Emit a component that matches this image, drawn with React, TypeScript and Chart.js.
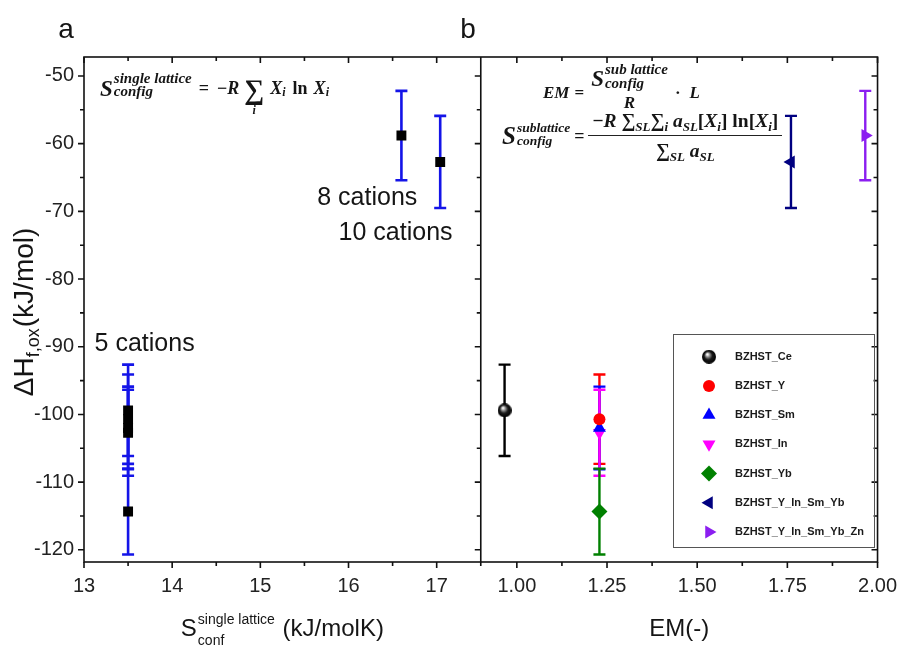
import React, { useEffect, useRef } from "react";
import { Chart, registerables } from "chart.js";
import { drawPoint } from "chart.js/helpers";

Chart.register(...registerables);

// ---------------- data ----------------
const samples = [
  "BZHST_Ce",
  "BZHST_Y",
  "BZHST_Sm",
  "BZHST_In",
  "BZHST_Yb",
  "BZHST_Y_In_Sm_Yb",
  "BZHST_Y_In_Sm_Yb_Zn",
];
const enthalpy = [-99.4, -100.7, -102.0, -102.7, -114.35, -62.7, -58.8];
const enthalpyErr = [6.75, 6.6, 6.1, 6.35, 6.35, 6.8, 6.6];
const sConfig = [13.5, 13.5, 13.5, 13.5, 13.5, 17.04, 16.6];
const emValues = [0.966, 1.229, 1.229, 1.229, 1.229, 1.76, 1.966];
const sTicks = [13, 14, 15, 16, 17];
const emTicks = [1.0, 1.25, 1.5, 1.75, 2.0];
const yTicks = [-120, -110, -100, -90, -80, -70, -60, -50];
const cationLabels = ["5 cations", "8 cations", "10 cations"];

// ---------------- styles ----------------
const sampleColors = ["#000000", "#ff0000", "#0000ff", "#ff00ff", "#008000", "#000080", "#8b1ef0"];
const markerStyles = ["sphere", "circle", "triangle", "triangle", "rectRot", "triangle", "triangle"];
const markerRot = [0, 0, 0, 180, 0, 270, 90];
const markerRadius = [7, 6, 7.5, 7.5, 8, 7.5, 7.5];
const SANS = '"Liberation Sans", Arial, sans-serif';
const SERIF = '"Liberation Serif", "DejaVu Serif", serif';

function makeSphere(d: number) {
  const c = document.createElement("canvas");
  c.width = d;
  c.height = d;
  const g = c.getContext("2d")!;
  const grad = g.createRadialGradient(d * 0.38, d * 0.32, d * 0.04, d / 2, d / 2, d / 2);
  grad.addColorStop(0, "#ffffff");
  grad.addColorStop(0.22, "#9a9a9a");
  grad.addColorStop(0.55, "#1a1a1a");
  grad.addColorStop(1, "#000000");
  g.fillStyle = grad;
  g.beginPath();
  g.arc(d / 2, d / 2, d / 2, 0, Math.PI * 2);
  g.fill();
  return c;
}

const errorBarPlugin = {
  id: "errorBars",
  beforeDatasetsDraw(chart: any) {
    const ctx = chart.ctx;
    chart.data.datasets.forEach((ds: any, i: number) => {
      if (!ds.errors) return;
      const meta = chart.getDatasetMeta(i);
      const xs = chart.scales[meta.xAxisID];
      const ys = chart.scales[meta.yAxisID];
      ctx.save();
      ctx.strokeStyle = ds.errorColor;
      ctx.lineWidth = ds.errorWidth;
      ds.data.forEach((pt: any, j: number) => {
        const x = xs.getPixelForValue(pt.x);
        const yt = ys.getPixelForValue(pt.y + ds.errors[j]);
        const yb = ys.getPixelForValue(pt.y - ds.errors[j]);
        ctx.beginPath();
        ctx.moveTo(x, yt);
        ctx.lineTo(x, yb);
        ctx.moveTo(x - ds.capHalf, yt);
        ctx.lineTo(x + ds.capHalf, yt);
        ctx.moveTo(x - ds.capHalf, yb);
        ctx.lineTo(x + ds.capHalf, yb);
        ctx.stroke();
      });
      ctx.restore();
    });
  },
};

const framePlugin = {
  id: "frame",
  afterDatasetsDraw(chart: any) {
    const { ctx, chartArea: a, scales } = chart;
    const xS = scales.xS;
    const xE = scales.xEM;
    const y = scales.y;
    const mid = xS.right;
    ctx.save();
    ctx.strokeStyle = "#111";
    ctx.lineWidth = 1.6;
    ctx.strokeRect(a.left, a.top, a.right - a.left, a.bottom - a.top);
    ctx.beginPath();
    ctx.moveTo(mid, a.top);
    ctx.lineTo(mid, a.bottom);
    for (let v = -120; v <= -50; v += 5) {
      const p = y.getPixelForValue(v);
      const len = v % 10 === 0 ? 6 : 4;
      ctx.moveTo(a.left - len, p);
      ctx.lineTo(a.left, p);
      ctx.moveTo(mid - len, p);
      ctx.lineTo(mid, p);
      ctx.moveTo(a.right - len, p);
      ctx.lineTo(a.right, p);
    }
    const xTick = (p: number, major: boolean) => {
      const len = major ? 6 : 4;
      ctx.moveTo(p, a.bottom);
      ctx.lineTo(p, a.bottom + len);
      ctx.moveTo(p, a.top);
      ctx.lineTo(p, a.top + len);
    };
    for (let v = 13; v <= 17.5001; v += 0.5) xTick(xS.getPixelForValue(v), Math.abs(v - Math.round(v)) < 1e-6);
    for (let k = 8; k <= 16; k++) {
      const v = k * 0.125;
      if (v < xE.min) continue;
      xTick(xE.getPixelForValue(v), k % 2 === 0);
    }
    ctx.stroke();
    ctx.restore();
  },
};

const annotPlugin = {
  id: "annot",
  afterDraw(chart: any) {
    const { ctx, scales } = chart;
    const xS = scales.xS;
    const xE = scales.xEM;
    const y = scales.y;
    ctx.save();
    ctx.fillStyle = "#151515";
    ctx.textBaseline = "alphabetic";
    // panel letters
    ctx.font = `28px ${SANS}`;
    ctx.textAlign = "center";
    ctx.fillText("a", 66, 38);
    ctx.fillText("b", 468, 38);
    // cation labels
    ctx.font = `25px ${SANS}`;
    ctx.textAlign = "left";
    ctx.fillText(cationLabels[0], xS.getPixelForValue(13.12), y.getPixelForValue(-90.7));
    ctx.textAlign = "right";
    ctx.fillText(cationLabels[1], xS.getPixelForValue(16.78), y.getPixelForValue(-69.1));
    ctx.fillText(cationLabels[2], xS.getPixelForValue(17.18), y.getPixelForValue(-74.3));

    // y title: starts (bottom) at -97.3
    ctx.save();
    ctx.translate(24, y.getPixelForValue(-97.3));
    ctx.rotate(-Math.PI / 2);
    ctx.textAlign = "left";
    const yBig = `28px ${SANS}`;
    const ySmall = `18px ${SANS}`;
    ctx.font = yBig;
    const w1 = ctx.measureText("ΔH").width;
    ctx.font = ySmall;
    const w2 = ctx.measureText("f,ox").width;
    ctx.font = yBig;
    ctx.fillText("ΔH", 0, 9);
    ctx.font = ySmall;
    ctx.fillText("f,ox", w1, 15);
    ctx.font = yBig;
    ctx.fillText("(kJ/mol)", w1 + w2 + 1, 9);
    ctx.restore();

    // x title a
    const big = `24px ${SANS}`;
    const base = 636;
    ctx.textAlign = "left";
    ctx.font = big;
    const sW = ctx.measureText("S").width;
    const uW = ctx.measureText(" (kJ/molK)").width;
    ctx.font = `14px ${SANS}`;
    const supW = ctx.measureText("single lattice").width;
    const total = sW + supW + 2 + uW;
    const cx = (xS.left + xS.right) / 2 - total / 2;
    ctx.font = big;
    ctx.fillText("S", cx, base);
    ctx.font = `14px ${SANS}`;
    ctx.fillText("single lattice", cx + sW + 1, base - 12);
    ctx.fillText("conf", cx + sW + 1, base + 9);
    ctx.font = big;
    ctx.fillText(" (kJ/molK)", cx + sW + supW + 2, base);
    // x title b
    ctx.textAlign = "center";
    ctx.fillText("EM(-)", (xE.left + xE.right) / 2, base);

    // legend
    const L = { left: 673, top: 334, right: 874, bottom: 547 };
    ctx.strokeStyle = "#555";
    ctx.lineWidth = 1;
    ctx.strokeRect(L.left + 0.5, L.top + 0.5, L.right - L.left, L.bottom - L.top);
    ctx.font = `bold 11px ${SANS}`;
    ctx.textAlign = "left";
    ctx.textBaseline = "middle";
    samples.forEach((name, i) => {
      const ry = 356.7 + i * 29.2;
      const ds = chart.data.datasets[i + 1];
      ctx.fillStyle = sampleColors[i];
      ctx.strokeStyle = sampleColors[i];
      drawPoint(ctx, { pointStyle: ds.pointStyle, rotation: ds.rotation, radius: ds.pointRadius, borderWidth: 0 } as any, 709, ry);
      ctx.fillStyle = "#1a1a1a";
      ctx.fillText(name, 735, ry);
    });
    ctx.restore();
  },
};

const Sc = ({ sup, sub, size = 13, shift = 0 }: { sup: string; sub: string; size?: number; shift?: number }) => (
  <span
    style={{
      display: "inline-flex",
      flexDirection: "column",
      fontSize: size,
      lineHeight: 0.9,
      marginLeft: 1,
      alignItems: "flex-start",
      position: "relative",
      top: shift,
    }}
  >
    <span>{sup}</span>
    <span>{sub}</span>
  </span>
);

const Sb = ({ children, size = 12 }: { children: any; size?: number }) => (
  <span style={{ fontSize: size, position: "relative", top: 4 }}>{children}</span>
);

const up: React.CSSProperties = { fontStyle: "normal" };

const mathBase: React.CSSProperties = {
  position: "absolute",
  fontFamily: SERIF,
  fontWeight: 700,
  fontStyle: "italic",
  color: "#151515",
  whiteSpace: "nowrap",
  lineHeight: 1,
  display: "flex",
  alignItems: "center",
};

export default function App() {
  const ref = useRef<HTMLCanvasElement>(null);
  useEffect(() => {
    const sphere = makeSphere(14);
    const tickFont = { family: SANS, size: 20 };
    const datasets: any[] = [
      {
        label: "ΔH vs S",
        data: sConfig.map((x, i) => ({ x, y: enthalpy[i] })),
        xAxisID: "xS",
        yAxisID: "y",
        pointStyle: "rect",
        pointRadius: 7,
        backgroundColor: "#000",
        borderColor: "#000",
        borderWidth: 0,
        errors: enthalpyErr,
        errorColor: "#1414e8",
        errorWidth: 2.6,
        capHalf: 6,
      },
      ...samples.map((name, i) => ({
        label: name,
        data: [{ x: emValues[i], y: enthalpy[i] }],
        xAxisID: "xEM",
        yAxisID: "y",
        pointStyle: markerStyles[i] === "sphere" ? sphere : markerStyles[i],
        rotation: markerRot[i],
        pointRadius: markerRadius[i],
        backgroundColor: sampleColors[i],
        borderColor: sampleColors[i],
        borderWidth: 0,
        errors: [enthalpyErr[i]],
        errorColor: sampleColors[i],
        errorWidth: 2.4,
        capHalf: 6,
      })),
    ];
    const xCommon = (ticksArr: number[], fmt: (v: number) => string) => ({
      type: "linear",
      position: "bottom",
      stack: "x",
      stackWeight: 1,
      afterBuildTicks: (s: any) => {
        s.ticks = ticksArr.map((v) => ({ value: v }));
      },
      afterFit: (s: any) => {
        s.height = 87;
      },
      ticks: {
        autoSkip: false,
        maxRotation: 0,
        minRotation: 0,
        padding: 12,
        font: tickFont,
        color: "#222",
        callback: (v: any) => fmt(Number(v)),
      },
      grid: { display: false, drawTicks: false },
      border: { display: false },
    });
    const chart = new Chart(ref.current!, {
      type: "scatter",
      data: { datasets },
      options: {
        responsive: false,
        animation: false,
        layout: { padding: { left: 0, right: 22, top: 57, bottom: 0 } },
        plugins: { legend: { display: false }, tooltip: { enabled: false }, title: { display: false } },
        scales: {
          xS: { ...xCommon(sTicks, (v) => String(v)), min: 13, max: 17.5 },
          xEM: { ...xCommon(emTicks, (v) => v.toFixed(2)), min: 0.9, max: 2.0 },
          y: {
            type: "linear",
            position: "left",
            min: -121.8,
            max: -47.2,
            afterBuildTicks: (s: any) => {
              s.ticks = yTicks.map((v) => ({ value: v }));
            },
            afterFit: (s: any) => {
              s.width = 84;
            },
            ticks: { padding: 10, font: tickFont, color: "#222", callback: (v: any) => String(v) },
            grid: { display: false, drawTicks: false },
            border: { display: false },
          },
        },
      } as any,
      plugins: [errorBarPlugin, framePlugin, annotPlugin],
    } as any);
    return () => chart.destroy();
  }, []);

  return (
    <div style={{ position: "absolute", left: 0, top: 0, width: 909, height: 649, background: "#fff", overflow: "hidden" }}>
      <canvas ref={ref} width={909} height={649} style={{ position: "absolute", left: 0, top: 0, width: 909, height: 649 }} />
      {/* formula a */}
      <div style={{ ...mathBase, left: 100, top: 68, fontSize: 18 }}>
        <span style={{ fontSize: 23 }}>S</span>
        <Sc sup="single lattice" sub="config" size={15} shift={-3} />
        <span style={{ ...up, margin: "0 8px 0 7px" }}>=</span>
        <span style={up}>−</span>
        <span>R</span>
        <span
          style={{
            display: "inline-flex",
            flexDirection: "column",
            alignItems: "center",
            margin: "0 6px 0 5px",
            position: "relative",
            top: 8,
          }}
        >
          <span style={{ ...up, fontSize: 28, lineHeight: 1 }}>∑</span>
          <span style={{ fontSize: 12 }}>i</span>
        </span>
        <span>X</span>
        <Sb>i</Sb>
        <span style={{ ...up, margin: "0 6px 0 7px" }}>ln</span>
        <span>X</span>
        <Sb>i</Sb>
      </div>
      {/* formula b, line 1 */}
      <div style={{ ...mathBase, left: 543, top: 69, fontSize: 17 }}>
        <span>EM</span>
        <span style={{ ...up, margin: "0 7px 0 5px" }}>=</span>
        <span
          style={{
            display: "inline-flex",
            flexDirection: "column",
            alignItems: "center",
            position: "relative",
            top: -4,
          }}
        >
          <span style={{ display: "inline-flex", alignItems: "center" }}>
            <span style={{ fontSize: 23 }}>S</span>
            <Sc sup="sub lattice" sub="config" size={15} shift={-2} />
          </span>
          <span style={{ marginTop: 2 }}>R</span>
        </span>
        <span style={{ ...up, margin: "0 9px 0 7px" }}>·</span>
        <span>L</span>
      </div>
      {/* formula b, line 2 */}
      <div style={{ ...mathBase, left: 502, top: 111, fontSize: 18 }}>
        <span style={{ fontSize: 25 }}>S</span>
        <Sc sup="sublattice" sub="config" size={13.5} shift={-1} />
        <span style={{ ...up, margin: "0 4px 0 4px" }}>=</span>
        <span style={{ display: "inline-flex", flexDirection: "column", alignItems: "center" }}>
          <span style={{ padding: "0 4px 4px", fontSize: 19.5 }}>
            <span style={up}>−</span>R <span style={up}>∑</span>
            <Sb size={13}>SL</Sb>
            <span style={up}>∑</span>
            <Sb size={13}>i</Sb> a<Sb size={13}>SL</Sb>
            <span style={up}>[</span>X<Sb size={13}>i</Sb>
            <span style={up}>]</span> <span style={up}>ln</span>
            <span style={up}>[</span>X<Sb size={13}>i</Sb>
            <span style={up}>]</span>
          </span>
          <span style={{ alignSelf: "stretch", borderTop: "1px solid #222" }} />
          <span style={{ paddingTop: 5, fontSize: 19.5 }}>
            <span style={up}>∑</span>
            <Sb size={13}>SL</Sb> a<Sb size={13}>SL</Sb>
          </span>
        </span>
      </div>
    </div>
  );
}
